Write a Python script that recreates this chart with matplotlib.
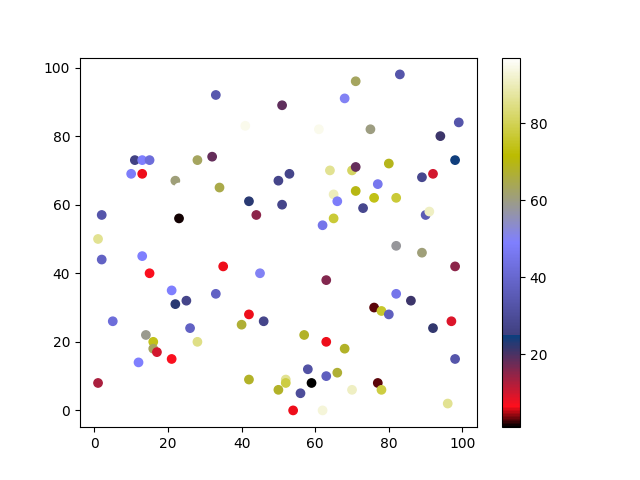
import numpy as np
import matplotlib
matplotlib.use("Agg")
import matplotlib.pyplot as plt

###############################################################################
# Scatter data (x, y, colour value)

x = [33, 11, 13, 15, 28, 32, 10, 13, 22, 51,
     68, 41, 61, 64, 70, 53, 50, 34, 71, 83,
     75, 99, 94, 71, 80, 98, 92, 89, 77, 23,
     2, 23, 1, 2, 13, 15, 35, 21, 22, 25,
     33, 42, 51, 44, 65, 66, 65, 62, 45, 63,
     71, 76, 82, 73, 90, 91, 82, 89, 98, 82,
     86, 76, 5, 26, 28, 14, 16, 16, 17, 21,
     12, 1, 42, 46, 40, 57, 63, 68, 42, 58,
     63, 66, 59, 52, 52, 50, 56, 54, 62, 70,
     78, 80, 92, 97, 98, 77, 78, 96]

y = [92, 73, 73, 73, 73, 74, 69, 69, 67, 89,
     91, 83, 82, 70, 70, 69, 67, 65, 96, 98,
     82, 84, 80, 71, 72, 73, 69, 68, 66, 65,
     57, 56, 50, 44, 45, 40, 42, 35, 31, 32,
     34, 61, 60, 57, 63, 61, 56, 54, 40, 38,
     64, 62, 62, 59, 57, 58, 48, 46, 42, 34,
     32, 30, 26, 24, 20, 22, 20, 18, 17, 15,
     14, 8, 28, 26, 25, 22, 20, 18, 9, 12,
     10, 11, 8, 9, 8, 6, 5, 0, 0, 6,
     29, 28, 24, 26, 15, 8, 6, 2]

colors = [34, 26, 49, 42, 63, 18, 48, 6, 61, 18.5,
          50, 95, 95, 86, 81, 27, 27, 65, 63, 33,
          60, 33, 21, 18, 69, 24.5, 10, 28, 46, 97,
          33, 1.5, 86, 38, 49, 7, 6, 49, 22.5, 27,
          38, 22.5, 27, 15, 90, 48, 77, 45, 50, 16,
          70, 73.5, 77, 28, 35, 91, 58, 61, 15, 45,
          21, 3, 42, 38, 85, 59, 74, 63, 10, 7,
          49, 13, 6, 27, 67, 68, 6, 68, 68, 32,
          37, 67, 1.1, 86, 78, 68, 30, 6, 93, 91,
          76, 37, 22, 9, 33, 3, 78, 86]

###############################################################################
# Plot

fig, ax = plt.subplots(figsize=(6.4, 4.8), dpi=100)
sc = ax.scatter(x, y, c=colors, cmap='gist_stern')
fig.colorbar(sc)

fig.savefig("out.png")
